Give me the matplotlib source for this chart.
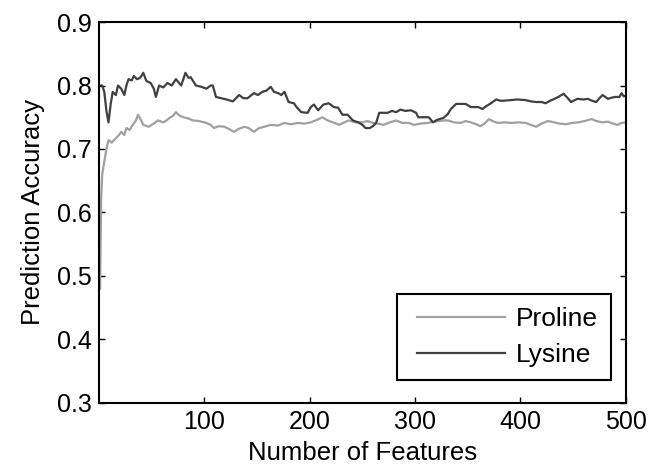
import matplotlib
matplotlib.use('Agg')
import matplotlib.pyplot as plt
from matplotlib.legend_handler import HandlerLine2D

plt.rcParams['font.family'] = ['Liberation Sans', 'DejaVu Sans']

# values (number of features, accuracy)
lysine_n = [1, 3, 5, 7, 9, 11, 13, 16, 18, 21, 24, 26, 28, 31, 33, 36, 39, 42, 45, 49,
            52, 54, 57, 61, 65, 69, 73, 78, 82, 85, 87, 92, 97, 102, 106, 108, 111, 116,
            121, 127, 133, 137, 141, 147, 151, 155, 159, 163, 166, 170, 173, 176, 180,
            185, 188, 192, 198, 201, 204, 208, 213, 218, 223, 227, 231, 236, 241, 246,
            250, 253, 257, 260, 263, 266, 270, 274, 278, 282, 286, 291, 296, 301, 303,
            308, 313, 317, 321, 327, 331, 334, 339, 344, 348, 353, 360, 364, 368, 372,
            377, 381, 384, 391, 397, 405, 410, 415, 420, 424, 428, 431, 436, 441, 445,
            448, 454, 460, 464, 468, 472, 475, 478, 483, 487, 490, 494, 496, 498, 500]
lysine_acc = [0.80, 0.80, 0.79, 0.76, 0.742, 0.77, 0.79, 0.785, 0.80, 0.795, 0.785, 0.80,
              0.81, 0.808, 0.815, 0.81, 0.812, 0.82, 0.807, 0.804, 0.795, 0.782, 0.80,
              0.797, 0.804, 0.80, 0.81, 0.80, 0.82, 0.812, 0.813, 0.80, 0.798, 0.795,
              0.80, 0.80, 0.782, 0.78, 0.778, 0.775, 0.785, 0.78, 0.78, 0.788, 0.785,
              0.79, 0.792, 0.798, 0.79, 0.788, 0.785, 0.79, 0.774, 0.772, 0.765, 0.758,
              0.757, 0.766, 0.77, 0.761, 0.77, 0.772, 0.766, 0.765, 0.754, 0.754, 0.745,
              0.742, 0.738, 0.733, 0.733, 0.736, 0.741, 0.757, 0.757, 0.757, 0.76, 0.758,
              0.762, 0.76, 0.761, 0.757, 0.75, 0.75, 0.75, 0.742, 0.746, 0.749, 0.755,
              0.763, 0.771, 0.771, 0.771, 0.766, 0.766, 0.763, 0.768, 0.772, 0.778, 0.776,
              0.776, 0.777, 0.778, 0.777, 0.775, 0.774, 0.774, 0.772, 0.776, 0.778, 0.782,
              0.787, 0.78, 0.774, 0.779, 0.778, 0.779, 0.776, 0.774, 0.78, 0.785, 0.779,
              0.781, 0.782, 0.782, 0.788, 0.783, 0.784]

proline_n = [1, 2, 3, 5, 7, 9, 12, 16, 19, 21, 24, 26, 29, 32, 35, 37, 40, 42, 47, 52,
             56, 61, 64, 67, 70, 73, 76, 80, 85, 89, 95, 102, 106, 109, 114, 119, 124,
             128, 133, 138, 142, 147, 152, 157, 163, 170, 176, 182, 189, 195, 201, 207,
             212, 217, 222, 228, 233, 237, 243, 250, 255, 260, 265, 270, 276, 282, 288,
             294, 299, 305, 312, 318, 327, 331, 337, 343, 348, 353, 358, 362, 366, 370,
             375, 379, 385, 392, 398, 405, 410, 415, 420, 426, 432, 437, 443, 449, 455,
             461, 465, 468, 472, 478, 483, 488, 492, 496, 500]
proline_acc = [0.48, 0.62, 0.66, 0.68, 0.70, 0.714, 0.71, 0.717, 0.722, 0.727, 0.722,
               0.733, 0.73, 0.738, 0.745, 0.754, 0.745, 0.738, 0.735, 0.74, 0.745, 0.742,
               0.745, 0.749, 0.752, 0.758, 0.753, 0.75, 0.748, 0.745, 0.744, 0.741, 0.738,
               0.733, 0.736, 0.735, 0.731, 0.727, 0.732, 0.735, 0.733, 0.727, 0.733, 0.735,
               0.738, 0.737, 0.741, 0.739, 0.741, 0.74, 0.742, 0.746, 0.75, 0.745, 0.742,
               0.738, 0.742, 0.745, 0.742, 0.742, 0.744, 0.741, 0.74, 0.738, 0.742, 0.745,
               0.741, 0.741, 0.738, 0.74, 0.741, 0.743, 0.745, 0.745, 0.742, 0.741, 0.744,
               0.742, 0.739, 0.736, 0.74, 0.747, 0.743, 0.741, 0.742, 0.741, 0.742, 0.741,
               0.738, 0.735, 0.74, 0.744, 0.742, 0.74, 0.739, 0.741, 0.742, 0.744, 0.746,
               0.747, 0.744, 0.742, 0.743, 0.74, 0.738, 0.741, 0.742]

fig = plt.figure(figsize=(6.58, 4.69), dpi=100)
ax = fig.add_axes([0.1505, 0.141, 0.8005, 0.812])

ax.plot(proline_n, proline_acc, color='#a0a0a0', lw=1.6, label='Proline')
ax.plot(lysine_n, lysine_acc, color='#404040', lw=1.6, label='Lysine')

ax.set_xlim(0, 500)
ax.set_ylim(0.3, 0.9)
ax.set_xticks([100, 200, 300, 400, 500])
ax.set_yticks([0.3, 0.4, 0.5, 0.6, 0.7, 0.8, 0.9])
ax.tick_params(direction='in', top=True, right=True, length=4, width=1,
               labelsize=18, pad=5)
for s in ax.spines.values():
    s.set_linewidth(1.5)

ax.set_xlabel('Number of Features', fontsize=18.5, labelpad=5)
ax.set_ylabel('Prediction Accuracy', fontsize=18.5, labelpad=9)

leg = ax.legend(loc='lower right', fontsize=19, fancybox=False, framealpha=1,
                edgecolor='black', handlelength=3.6, borderpad=0.5,
                labelspacing=0.45, handletextpad=0.4, borderaxespad=0,
                bbox_to_anchor=(0.972, 0.06),
                handler_map={l: HandlerLine2D(xpad=0.25) for l in ax.get_lines()})
leg.get_frame().set_linewidth(1.5)

fig.savefig('out.png', dpi=100)
